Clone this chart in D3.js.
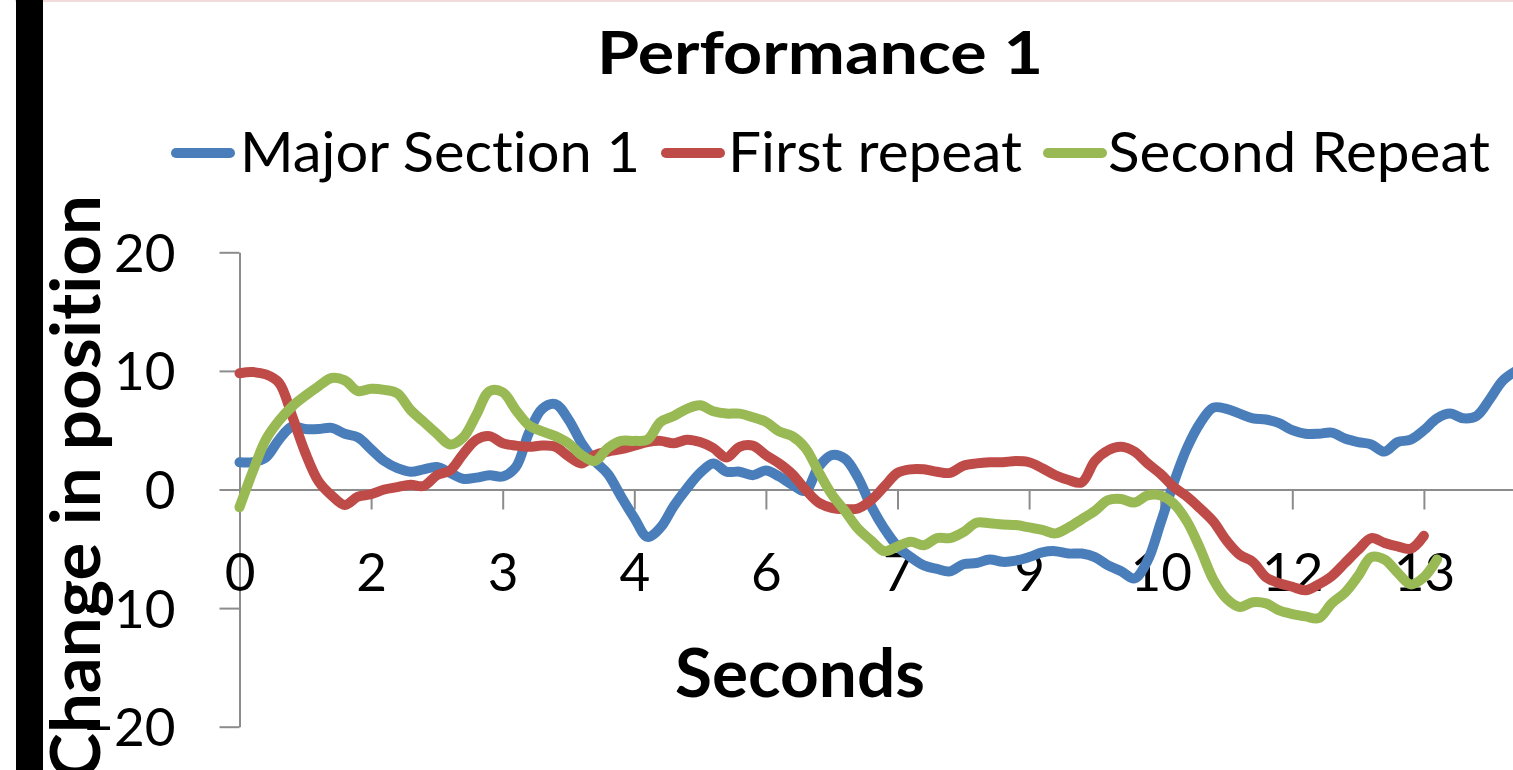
<!DOCTYPE html>
<html>
<head>
<meta charset="utf-8">
<script src="https://cdn.jsdelivr.net/npm/d3@7"></script>
<style>
  html, body { margin: 0; padding: 0; background: #fff; overflow: hidden; }
  svg { display: block; }
  text { font-family: Lato, "Open Sans", "Noto Sans", sans-serif; fill: #000; font-variant-ligatures: none; font-feature-settings: "liga" 0, "clig" 0; }
</style>
</head>
<body>
<svg id="chart" width="1513" height="770"></svg>
<script>
// Tick labels shown under every tenth sample on the category axis
const categories = ["0", "2", "3", "4", "6", "7", "9", "10", "12", "13"];
const yTicks = [-20, -10, 0, 10, 20];
const seriesNames = ["Major Section 1", "First repeat", "Second Repeat"];

// Change in position, one value per sample
const majorSection1 = [
  2.3, 2.3, 2.7, 4.2, 5.3, 5.1, 5.1, 5.2, 4.7, 4.4,
  3.4, 2.4, 1.8, 1.5, 1.7, 1.9, 1.4, 0.9, 1.0, 1.2,
  1.1, 1.9, 4.8, 6.8, 7.2, 5.9, 3.9, 2.4, 1.3, -0.6,
  -2.4, -4.0, -3.2, -1.4, 0.1, 1.4, 2.2, 1.5, 1.5, 1.2,
  1.6, 1.1, 0.4, -0.1, 1.9, 2.9, 2.6, 1.0, -1.4, -3.3,
  -4.8, -5.7, -6.4, -6.7, -6.9, -6.3, -6.2, -5.9, -6.1, -6.0,
  -5.7, -5.3, -5.2, -5.4, -5.4, -5.7, -6.4, -6.9, -7.5, -6.0,
  -2.8, 0.6, 3.5, 5.6, 6.9, 6.8, 6.4, 6.0, 5.9, 5.6,
  5.0, 4.7, 4.7, 4.8, 4.3, 4.0, 3.8, 3.2, 4.0, 4.2,
  5.0, 6.0, 6.4, 6.0, 6.2, 7.6, 9.2, 10.0
];
const firstRepeat = [
  9.8, 9.9, 9.7, 9.0, 6.2, 3.1, 0.7, -0.5, -1.3, -0.6,
  -0.4, 0.0, 0.2, 0.4, 0.3, 1.2, 1.6, 3.0, 4.2, 4.5,
  3.9, 3.7, 3.6, 3.7, 3.6, 2.8, 2.2, 2.9, 3.2, 3.4,
  3.7, 4.0, 4.1, 3.9, 4.2, 4.0, 3.5, 2.7, 3.6, 3.7,
  2.9, 2.2, 1.3, 0.0, -1.1, -1.55, -1.65, -1.6, -0.9, 0.25,
  1.4, 1.7, 1.7, 1.5, 1.4, 2.0, 2.2, 2.3, 2.3, 2.4,
  2.3, 1.8, 1.2, 0.8, 0.6, 2.4, 3.3, 3.6, 3.2, 2.2,
  1.3, 0.2, -0.6, -1.6, -2.7, -4.3, -5.5, -6.1, -7.4, -7.9,
  -8.2, -8.5, -8.0, -7.3, -6.2, -5.1, -4.1, -4.5, -4.8, -5.0,
  -3.9
];
const secondRepeat = [
  -1.5, 1.5, 4.2, 5.8, 7.0, 7.9, 8.7, 9.4, 9.2, 8.3,
  8.5, 8.4, 8.1, 6.7, 5.7, 4.7, 3.8, 4.4, 6.3, 8.3,
  8.2, 6.7, 5.4, 4.9, 4.5, 3.9, 2.9, 2.4, 3.5, 4.1,
  4.1, 4.2, 5.7, 6.2, 6.8, 7.1, 6.6, 6.4, 6.4, 6.1,
  5.7, 4.9, 4.5, 3.5, 1.5, -0.4, -1.8, -3.3, -4.3, -5.2,
  -4.8, -4.4, -4.7, -4.1, -4.1, -3.6, -2.8, -2.85, -2.95, -3.0,
  -3.2, -3.4, -3.7, -3.2, -2.5, -1.8, -0.9, -0.8, -1.1, -0.5,
  -0.5, -1.2, -2.7, -5.0, -7.6, -9.2, -9.9, -9.5, -9.6, -10.2,
  -10.5, -10.7, -10.85, -9.6, -8.7, -7.3, -5.7, -5.9, -7.0, -8.0,
  -7.4, -5.9
];

const seriesColors = ["#4A7EBB", "#BE4B48", "#98B954"];
const seriesData = [majorSection1, firstRepeat, secondRepeat];

const svg = d3.select("#chart");

// Sheet edge decorations: pale rule along the top, dark bar on the left
svg.append("rect").attr("x", 15).attr("y", 0).attr("width", 1498).attr("height", 2).attr("fill", "#F2DCDB");
svg.append("rect").attr("x", 16).attr("y", 0).attr("width", 27).attr("height", 770).attr("fill", "#000");

// Stretch or squeeze a text element to a given advance width
function fitWidth(sel, w) {
  sel.attr("textLength", w).attr("lengthAdjust", "spacingAndGlyphs");
  return sel;
}

// Scales: ten samples per labelled category step
const x = d3.scaleLinear().domain([0, 100]).range([239.5, 239.5 + 1316]);
const y = d3.scaleLinear().domain([-20, 20]).range([726.7, 252.3]);

// Title
fitWidth(svg.append("text")
  .attr("x", 820).attr("y", 74)
  .attr("text-anchor", "middle")
  .style("font-weight", "700").style("font-size", "60px")
  .text("Performance 1"), 446);

// Legend
const legendItems = [
  { lineX: 172, textX: 240, textW: 400 },
  { lineX: 662, textX: 728, textW: 294 },
  { lineX: 1044, textX: 1108, textW: 382 }
];
legendItems.forEach((it, i) => {
  svg.append("line")
    .attr("x1", it.lineX + 4).attr("x2", it.lineX + 58)
    .attr("y1", 153).attr("y2", 153)
    .attr("stroke", seriesColors[i]).attr("stroke-width", 10)
    .attr("stroke-linecap", "round");
  fitWidth(svg.append("text")
    .attr("x", it.textX).attr("y", 171.5)
    .style("font-size", "56px")
    .text(seriesNames[i]), it.textW);
});

// Y axis
const yAxis = svg.append("g")
  .attr("transform", `translate(${x(0)},0)`)
  .call(d3.axisLeft(y).tickValues(yTicks).tickSize(20).tickSizeOuter(0).tickPadding(44));
yAxis.select(".domain").attr("stroke", "#8C8C8C").attr("stroke-width", 2);
yAxis.selectAll(".tick line").attr("stroke", "#8C8C8C").attr("stroke-width", 2);
yAxis.selectAll(".tick text")
  .attr("dy", "0.36em")
  .style("font-size", "53px").style("font-family", "Lato, 'Open Sans', sans-serif").attr("fill", "#000");

// X axis crossing at zero
const xAxis = svg.append("g")
  .attr("transform", `translate(0,${y(0)})`)
  .call(d3.axisBottom(x)
    .tickValues(d3.range(0, categories.length * 10, 10))
    .tickFormat((d, i) => categories[i])
    .tickSize(20).tickSizeOuter(0));
xAxis.select(".domain").attr("stroke", "#8C8C8C").attr("stroke-width", 2);
xAxis.selectAll(".tick line").attr("stroke", "#8C8C8C").attr("stroke-width", 2);
xAxis.selectAll(".tick text")
  .attr("y", 101.5).attr("dy", 0)
  .style("font-size", "53px").style("font-family", "Lato, 'Open Sans', sans-serif").attr("fill", "#000");

// Axis titles
fitWidth(svg.append("text")
  .attr("x", 800).attr("y", 697)
  .attr("text-anchor", "middle")
  .style("font-weight", "700").style("font-size", "66px")
  .text("Seconds"), 250);

fitWidth(svg.append("text")
  .attr("transform", "translate(100,195) rotate(-90)")
  .attr("text-anchor", "end")
  .style("font-weight", "700").style("font-size", "68px")
  .text("Change in position"), 585);

// Series lines
const line = d3.line()
  .x((d, i) => x(i))
  .y(d => y(d))
  .curve(d3.curveCatmullRom.alpha(0.5));

svg.append("g").selectAll("path")
  .data(seriesData)
  .join("path")
  .attr("d", d => line(d))
  .attr("fill", "none")
  .attr("stroke", (d, i) => seriesColors[i])
  .attr("stroke-width", 10)
  .attr("stroke-linejoin", "round")
  .attr("stroke-linecap", "round");
</script>
</body>
</html>
